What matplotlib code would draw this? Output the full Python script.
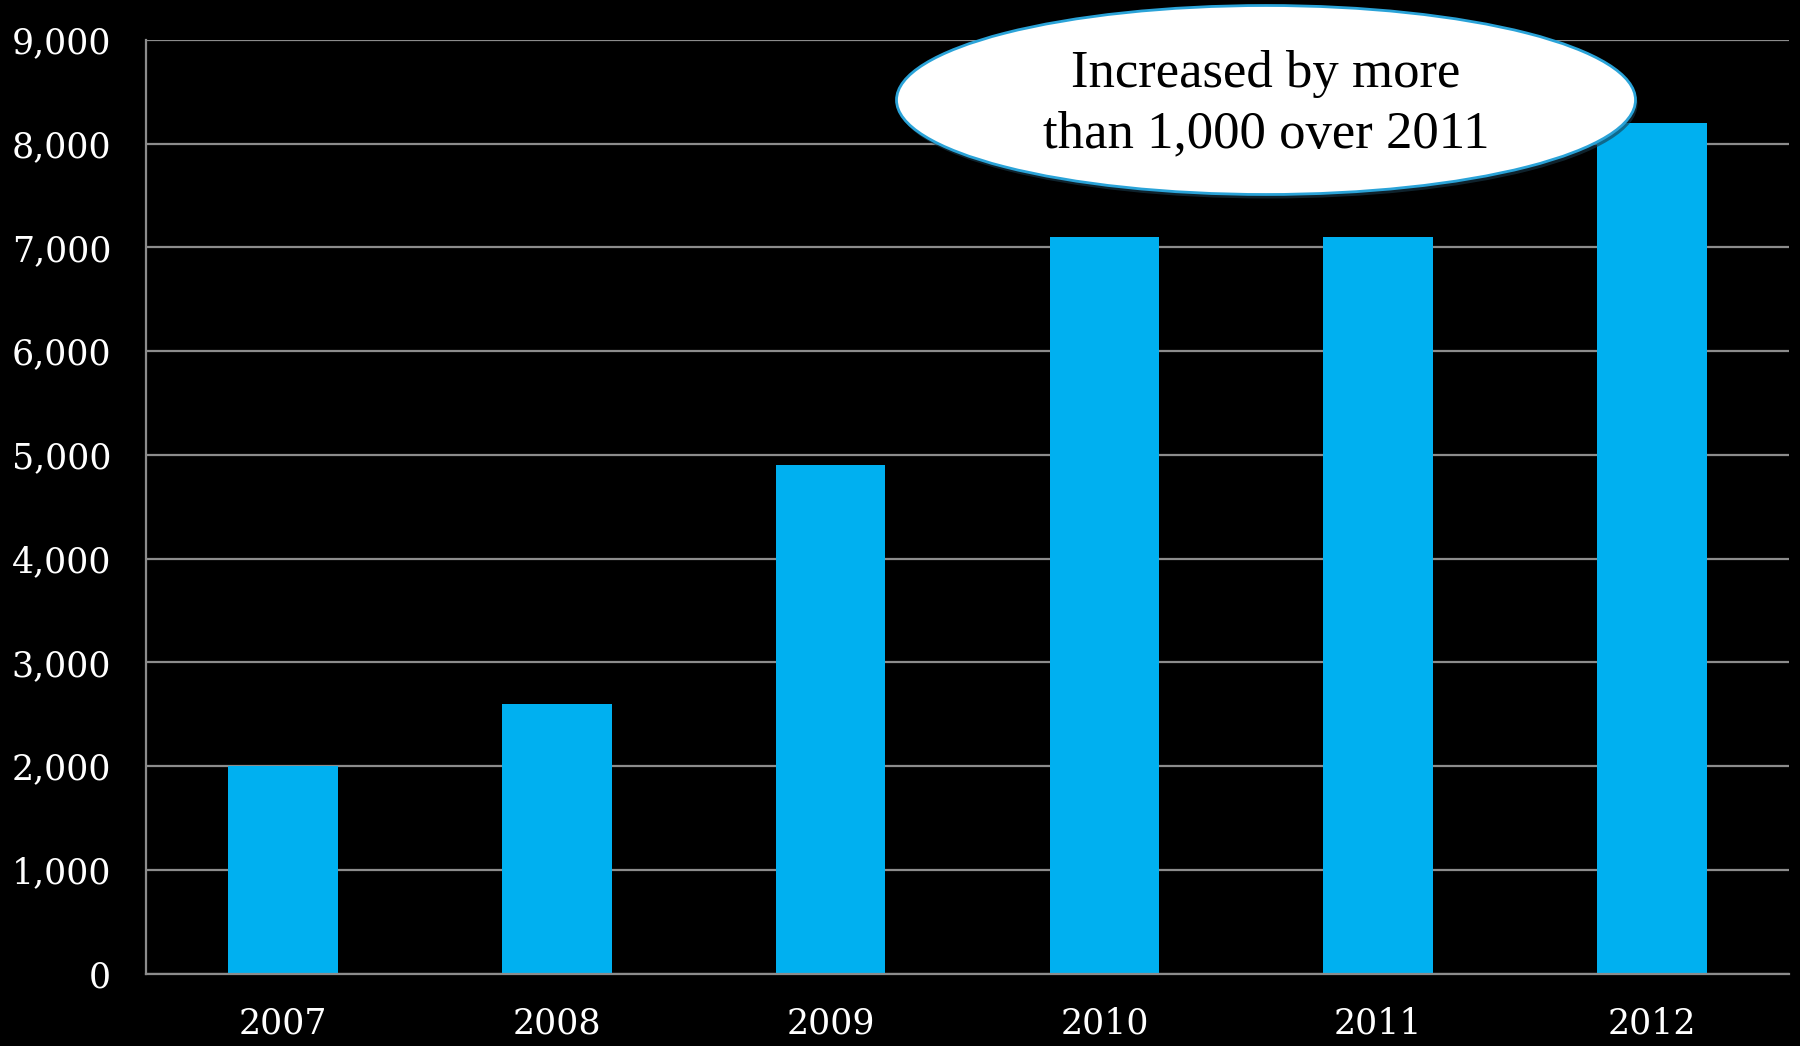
import matplotlib
matplotlib.use("Agg")
import matplotlib.pyplot as plt
from matplotlib.patches import Ellipse
from matplotlib.ticker import FuncFormatter

years = ["2007", "2008", "2009", "2010", "2011", "2012"]
values = [2000, 2600, 4900, 7100, 7100, 8200]
y_ticks = [0, 1000, 2000, 3000, 4000, 5000, 6000, 7000, 8000, 9000]
note = "Increased by more\nthan 1,000 over 2011"

W, H = 1800, 1046
fig = plt.figure(figsize=(18, 10.46), dpi=100, facecolor="black")
ax = fig.add_axes([146 / W, 1 - 973.5 / H, (1789 - 146) / W, (973.5 - 40) / H])
ax.set_facecolor("black")

x = range(len(years))
ax.bar(x, values, width=0.4, color="#00B0F0", zorder=3)
ax.set_xlim(-0.5, len(years) - 0.5)
ax.set_ylim(0, 9000)
ax.set_yticks(y_ticks)
ax.yaxis.set_major_formatter(FuncFormatter(lambda v, p: f"{int(v):,}"))
ax.set_xticks(list(x))
ax.set_xticklabels(years)

ax.grid(axis="y", color="#8c8c8c", linewidth=1.6, zorder=1)
for s in ["top", "right"]:
    ax.spines[s].set_visible(False)
for s in ["left", "bottom"]:
    ax.spines[s].set_color("#8c8c8c")
    ax.spines[s].set_linewidth(1.6)
    ax.spines[s].set_zorder(4)

font = "DejaVu Serif"
ax.tick_params(axis="both", length=0, colors="white", labelsize=25)
ax.tick_params(axis="y", pad=25)
ax.tick_params(axis="x", pad=24)
for lab in ax.get_xticklabels() + ax.get_yticklabels():
    lab.set_fontfamily(font)

# callout ellipse
cx, cy = 1266 / W, 1 - 100 / H
ew, eh = 739 / W, 189 / H
shadow = Ellipse((cx + 2 / W, cy - 4 / H), ew, eh, transform=fig.transFigure,
                 facecolor="#1a3a4a", edgecolor="none", alpha=0.6, zorder=5)
fig.patches.append(shadow)
ell = Ellipse((cx, cy), ew, eh, transform=fig.transFigure,
              facecolor="white", edgecolor="#2aa3d8", linewidth=2, zorder=6)
fig.patches.append(ell)
fig.text(cx, 1 - 104 / H, note, ha="center", va="center", fontsize=38,
         family="Liberation Serif", color="black", linespacing=1.32, zorder=7)

fig.savefig("out.png", dpi=100, facecolor="black")
